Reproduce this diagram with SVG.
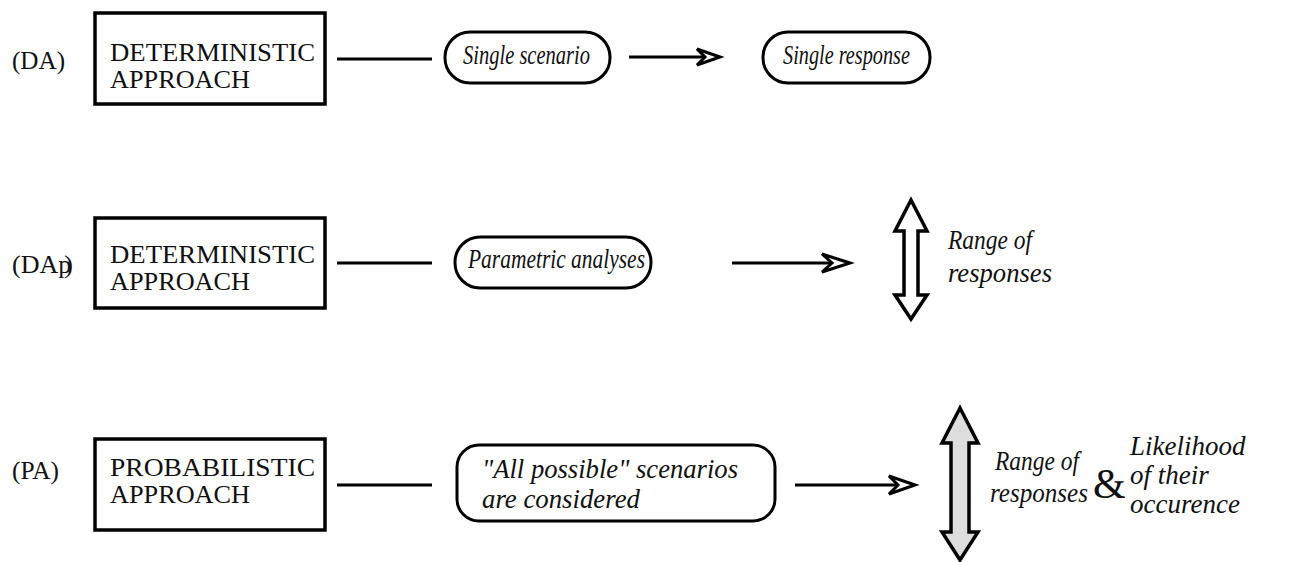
<svg xmlns="http://www.w3.org/2000/svg" width="1299" height="562" viewBox="0 0 1299 562">
<style>
.bg{fill:#fff}
.box{fill:#fff;stroke:#000;stroke-width:3.5}
.pill{fill:#fff;stroke:#000;stroke-width:3}
.ln{stroke:#000;stroke-width:3;fill:none}
.head{fill:#fff;stroke:#000;stroke-width:3;stroke-linejoin:miter}
.up{font-family:"Liberation Serif","Times New Roman",serif;font-size:26px;fill:#111}
.bt{font-family:"Liberation Serif","Times New Roman",serif;font-size:25px;fill:#111}
.it{font-family:"Liberation Serif","Times New Roman",serif;font-style:italic;font-size:27px;fill:#111}
.dbl{fill:#fff;stroke:#000;stroke-width:3.5;stroke-linejoin:miter}
.dblg{fill:#ddd;stroke:#000;stroke-width:3.5;stroke-linejoin:miter}
</style>
<rect class="bg" x="0" y="0" width="1299" height="562"/>

<g id="label-da"><text class="up" x="12" y="69" textLength="53" lengthAdjust="spacingAndGlyphs">(DA)</text></g>
<g id="label-dap"><text class="up" x="12" y="273">(DA<tspan>p</tspan><tspan dx="-7">)</tspan></text></g>
<g id="label-pa"><text class="up" x="12" y="479" textLength="47" lengthAdjust="spacingAndGlyphs">(PA)</text></g>

<g id="node-da">
<rect class="box" x="95" y="13" width="230" height="91"/>
<text class="bt" x="110" y="61" textLength="205" lengthAdjust="spacingAndGlyphs">DETERMINISTIC</text>
<text class="bt" x="110" y="88" textLength="140" lengthAdjust="spacingAndGlyphs">APPROACH</text>
</g>
<g id="node-dap">
<rect class="box" x="95" y="218" width="230" height="90"/>
<text class="bt" x="110" y="263" textLength="205" lengthAdjust="spacingAndGlyphs">DETERMINISTIC</text>
<text class="bt" x="110" y="290" textLength="140" lengthAdjust="spacingAndGlyphs">APPROACH</text>
</g>
<g id="node-pa">
<rect class="box" x="95" y="439" width="230" height="91"/>
<text class="bt" x="110" y="476" textLength="205" lengthAdjust="spacingAndGlyphs">PROBABILISTIC</text>
<text class="bt" x="110" y="503" textLength="140" lengthAdjust="spacingAndGlyphs">APPROACH</text>
</g>

<g id="node-single-scenario">
<rect class="pill" x="445" y="32" width="165" height="51" rx="25" ry="25"/>
<text class="it" x="463" y="64" textLength="127" lengthAdjust="spacingAndGlyphs">Single scenario</text>
</g>
<g id="node-single-response">
<rect class="pill" x="763" y="32" width="167" height="51" rx="25" ry="25"/>
<text class="it" x="783" y="64" textLength="127" lengthAdjust="spacingAndGlyphs">Single response</text>
</g>
<g id="node-parametric">
<rect class="pill" x="455" y="237" width="196" height="51" rx="25" ry="25"/>
<text class="it" x="468" y="268" textLength="177" lengthAdjust="spacingAndGlyphs">Parametric analyses</text>
</g>
<g id="node-all-possible">
<rect class="pill" x="457" y="445" width="318" height="76" rx="22" ry="22"/>
<text class="it" x="482" y="478" textLength="256" lengthAdjust="spacingAndGlyphs">"All possible" scenarios</text>
<text class="it" x="482" y="508" textLength="158" lengthAdjust="spacingAndGlyphs">are considered</text>
</g>

<g id="node-range-dap">
<path class="dbl" d="M911,200 L927,231 L918,231 L918,295 L927,295 L911,319 L895,295 L904,295 L904,231 L895,231 Z"/>
<text class="it" x="948" y="249" textLength="84" lengthAdjust="spacingAndGlyphs">Range of</text>
<text class="it" x="948" y="282" textLength="104" lengthAdjust="spacingAndGlyphs">responses</text>
</g>
<g id="node-range-pa">
<path class="dblg" d="M960,408 L978,443 L969,443 L969,532 L978,532 L960,560 L942,532 L951,532 L951,443 L942,443 Z"/>
<text class="it" x="995" y="470" textLength="84" lengthAdjust="spacingAndGlyphs">Range of</text>
<text class="it" x="990" y="502" textLength="98" lengthAdjust="spacingAndGlyphs">responses</text>
</g>
<g id="node-amp">
<text class="up" x="1093" y="498" style="font-size:42px">&amp;</text>
</g>
<g id="node-likelihood">
<text class="it" x="1130" y="455">Likelihood</text>
<text class="it" x="1130" y="484">of their</text>
<text class="it" x="1130" y="513">occurence</text>
</g>

<g id="connectors">
<line class="ln" x1="337" y1="59" x2="432" y2="59"/>
<line class="ln" x1="337" y1="263" x2="432" y2="263"/>
<line class="ln" x1="337" y1="485" x2="432" y2="485"/>
<line class="ln" x1="629" y1="57" x2="705" y2="57"/>
<path class="head" d="M720,57 L697,49 L705,57 L697,65 Z"/>
<line class="ln" x1="732" y1="263" x2="835" y2="263"/>
<path class="head" d="M850,263 L822,254 L832,263 L822,272 Z"/>
<line class="ln" x1="795" y1="485" x2="900" y2="485"/>
<path class="head" d="M915,485 L889,476 L898,485 L889,494 Z"/>
</g>
</svg>
